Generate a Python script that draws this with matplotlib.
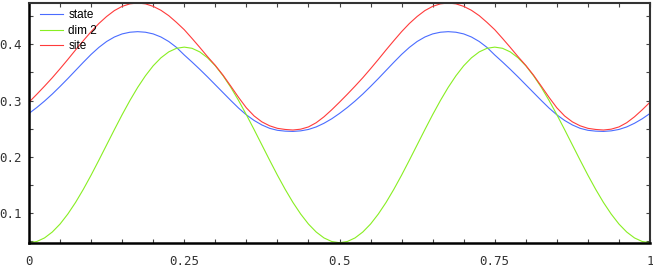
import numpy as np
import matplotlib
matplotlib.use("Agg")
import matplotlib.pyplot as plt
from matplotlib.ticker import FixedLocator, MultipleLocator, FixedFormatter

# --- DATA (one period of 0.5; the chart repeats it twice) ---
state_period = [0.277, 0.2875, 0.299, 0.3115, 0.325, 0.339, 0.3535, 0.368, 0.382, 0.3945,
                0.405, 0.413, 0.4185, 0.4215, 0.4225, 0.4215, 0.4185, 0.413, 0.405, 0.3945,
                0.381, 0.3685, 0.3555, 0.342, 0.328, 0.314, 0.300, 0.2865, 0.2745, 0.2645,
                0.2565, 0.2505, 0.247, 0.2455, 0.245, 0.246, 0.2485, 0.253, 0.2595, 0.2675,
                0.277]

dim2_period = [0.0470, 0.0491, 0.0555, 0.0660, 0.0802, 0.0980, 0.1187, 0.1420, 0.1672, 0.1938,
               0.2210, 0.2482, 0.2748, 0.3000, 0.3233, 0.3440, 0.3618, 0.3760, 0.3865, 0.3929,
               0.3950, 0.3929, 0.3865, 0.3760, 0.3618, 0.3440, 0.3233, 0.3000, 0.2748, 0.2482,
               0.2210, 0.1938, 0.1672, 0.1420, 0.1187, 0.0980, 0.0802, 0.0660, 0.0555, 0.0491,
               0.0470]

site_period = [0.297, 0.311, 0.3255, 0.3405, 0.3565, 0.373, 0.390, 0.4065, 0.4225, 0.437,
               0.4495, 0.460, 0.4675, 0.472, 0.4735, 0.472, 0.4675, 0.4605, 0.451, 0.439,
               0.426, 0.4105, 0.3945, 0.378, 0.3625, 0.345, 0.3255, 0.3055, 0.287, 0.2725,
               0.262, 0.255, 0.2505, 0.2485, 0.2475, 0.249, 0.253, 0.2605, 0.271, 0.2835,
               0.297]

state = state_period + state_period[1:]
dim2 = dim2_period + dim2_period[1:]
site = site_period + site_period[1:]
x_vals = np.linspace(0, 1, len(state))

x_ticks = [0, 0.25, 0.5, 0.75, 1]
x_tick_labels = ["0", "0.25", "0.5", "0.75", "1"]
y_ticks = [0.1, 0.2, 0.3, 0.4]
y_tick_labels = ["0.1", "0.2", "0.3", "0.4"]

# --- FIGURE ---
fig = plt.figure(figsize=(6.53, 2.72), dpi=100)
ax = fig.add_axes([29 / 653, (272 - 242.7) / 272, 621 / 653, 239.7 / 272])

ax.plot(x_vals, state, color="#4a6cff", lw=0.8, label="state")
ax.plot(x_vals, dim2, color="#88ee22", lw=0.8, label="dim 2")
ax.plot(x_vals, site, color="#ff3b3b", lw=0.8, label="site")

ax.set_xlim(0, 1)
ax.set_ylim(0.047, 0.4735)

ax.xaxis.set_major_locator(FixedLocator(x_ticks))
ax.xaxis.set_major_formatter(FixedFormatter(x_tick_labels))
ax.xaxis.set_minor_locator(MultipleLocator(0.05))
ax.yaxis.set_major_locator(FixedLocator(y_ticks))
ax.yaxis.set_major_formatter(FixedFormatter(y_tick_labels))
ax.yaxis.set_minor_locator(MultipleLocator(0.05))

ax.tick_params(which="both", direction="in", length=3, width=0.8,
               top=True, right=True, color="#444444")
ax.tick_params(axis="x", which="major", pad=9)
ax.tick_params(axis="y", which="major", pad=5)
for lab in ax.get_xticklabels() + ax.get_yticklabels():
    lab.set_family("DejaVu Sans Mono")
    lab.set_fontsize(9)
    lab.set_color("#333333")

for side in ["left", "bottom"]:
    ax.spines[side].set_linewidth(1.8)
    ax.spines[side].set_color("black")
for side in ["top", "right"]:
    ax.spines[side].set_linewidth(1.5)
    ax.spines[side].set_color("#333333")

leg = ax.legend(loc="upper left", bbox_to_anchor=(0.008, 1.0), frameon=False,
                handlelength=1.9, handletextpad=0.45, labelspacing=0.28,
                borderaxespad=0.2, borderpad=0.35,
                prop={"family": "Liberation Sans", "size": 8.5})

fig.savefig("out.png", dpi=100)
